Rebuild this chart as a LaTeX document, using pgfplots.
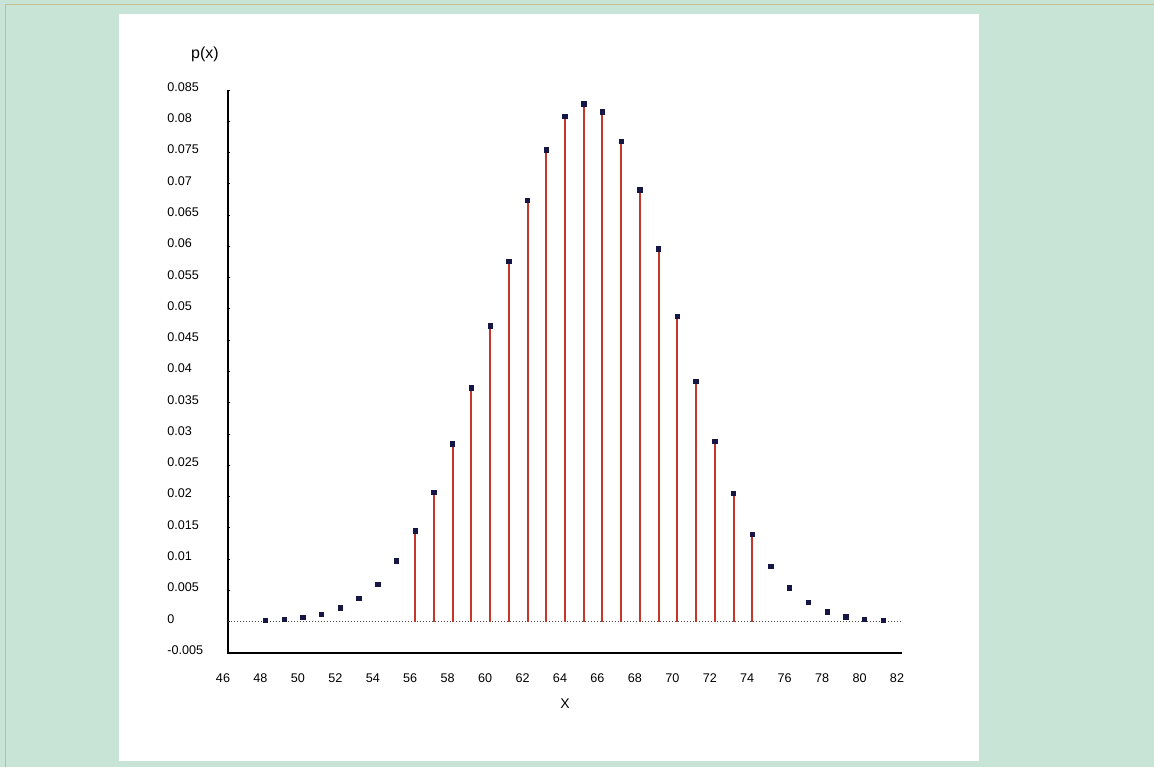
\documentclass[border=0pt]{standalone}
\usepackage{pgfplots}
\pgfplotsset{compat=1.18}
\usepackage{fontspec}
\setmainfont{Liberation Sans}

\definecolor{pagegreen}{RGB}{200,228,214}
\definecolor{rimline}{RGB}{196,190,140}
\definecolor{stemred}{RGB}{196,56,44}
\definecolor{dotnavy}{RGB}{22,22,70}

% probabilities p(x)
\pgfplotstableread{
x    p
48   0.0002
49   0.0004
50   0.0007
51   0.0012
52   0.0022
53   0.0037
54   0.0060
55   0.0097
56   0.0145
57   0.0207
58   0.0284
59   0.0374
60   0.0473
61   0.0576
62   0.0674
63   0.0754
64   0.0808
65   0.0828
66   0.0815
67   0.0768
68   0.0690
69   0.0596
70   0.0488
71   0.0384
72   0.0288
73   0.0205
74   0.0140
75   0.0088
76   0.0054
77   0.0031
78   0.0016
79   0.0008
80   0.0004
81   0.0002
}\probs

\pgfplotstableread{
x    p
56   0.0145
57   0.0207
58   0.0284
59   0.0374
60   0.0473
61   0.0576
62   0.0674
63   0.0754
64   0.0808
65   0.0828
66   0.0815
67   0.0768
68   0.0690
69   0.0596
70   0.0488
71   0.0384
72   0.0288
73   0.0205
74   0.0140
}\stems

\begin{document}
\begin{tikzpicture}
  % page and panel
  \fill[pagegreen] (0,0) rectangle (577pt,383.5pt);
  \useasboundingbox (0,0) rectangle (577pt,383.5pt);
  \draw[rimline, line width=0.6pt] (2.85pt,0) -- (2.85pt,381.1pt) -- (577pt,381.1pt);
  \fill[white] (59.5pt,3pt) rectangle (489.5pt,376.5pt);

  \begin{axis}[
    at={(114pt,57pt)}, anchor=south west,
    scale only axis, width=337pt, height=281.5pt,
    xmin=46, xmax=82, ymin=-0.005, ymax=0.085,
    axis x line=bottom, axis y line=left,
    axis line style={-, line width=0.9pt, black},
    scaled y ticks=false, scaled x ticks=false,
    xtick={46,48,...,82},
    xticklabels={46,48,50,52,54,56,58,60,62,64,66,68,70,72,74,76,78,80,82},
    major x tick style={draw=none},
    ytick={-0.005,0,0.005,0.01,0.015,0.02,0.025,0.03,0.035,0.04,0.045,0.05,0.055,0.06,0.065,0.07,0.075,0.08,0.085},
    yticklabels={-0.005,0,0.005,0.01,0.015,0.02,0.025,0.03,0.035,0.04,0.045,0.05,0.055,0.06,0.065,0.07,0.075,0.08,0.085},
    major y tick style={black, line width=0.5pt},
    major tick length=1.5pt,
    tick label style={font=\fontsize{6.3}{7}\selectfont},
    xticklabel style={xshift=-2.5pt, yshift=-6pt},
    yticklabel style={text width=26pt, align=left, anchor=east, yshift=1.5pt},
    xlabel={X}, ylabel={p(x)},
    xlabel style={font=\fontsize{7}{8}\selectfont, at={(axis description cs:0.5,0)}, anchor=center, yshift=-25.5pt},
    ylabel style={font=\fontsize{8}{9}\selectfont, rotate=-90, at={(axis description cs:0,1)}, anchor=center, xshift=-11.5pt, yshift=18pt},
    clip=false,
  ]
    % zero line
    \addplot[densely dotted, black!70, line width=0.5pt] coordinates {(46,0) (81.9,0)};
    % stems
    \addplot[ycomb, stemred, line width=1pt] table[x=x, y=p] {\stems};
    % probability marks
    \addplot[only marks, mark=square*, mark size=1.1pt, dotnavy] table[x=x, y=p] {\probs};
  \end{axis}
\end{tikzpicture}
\end{document}
